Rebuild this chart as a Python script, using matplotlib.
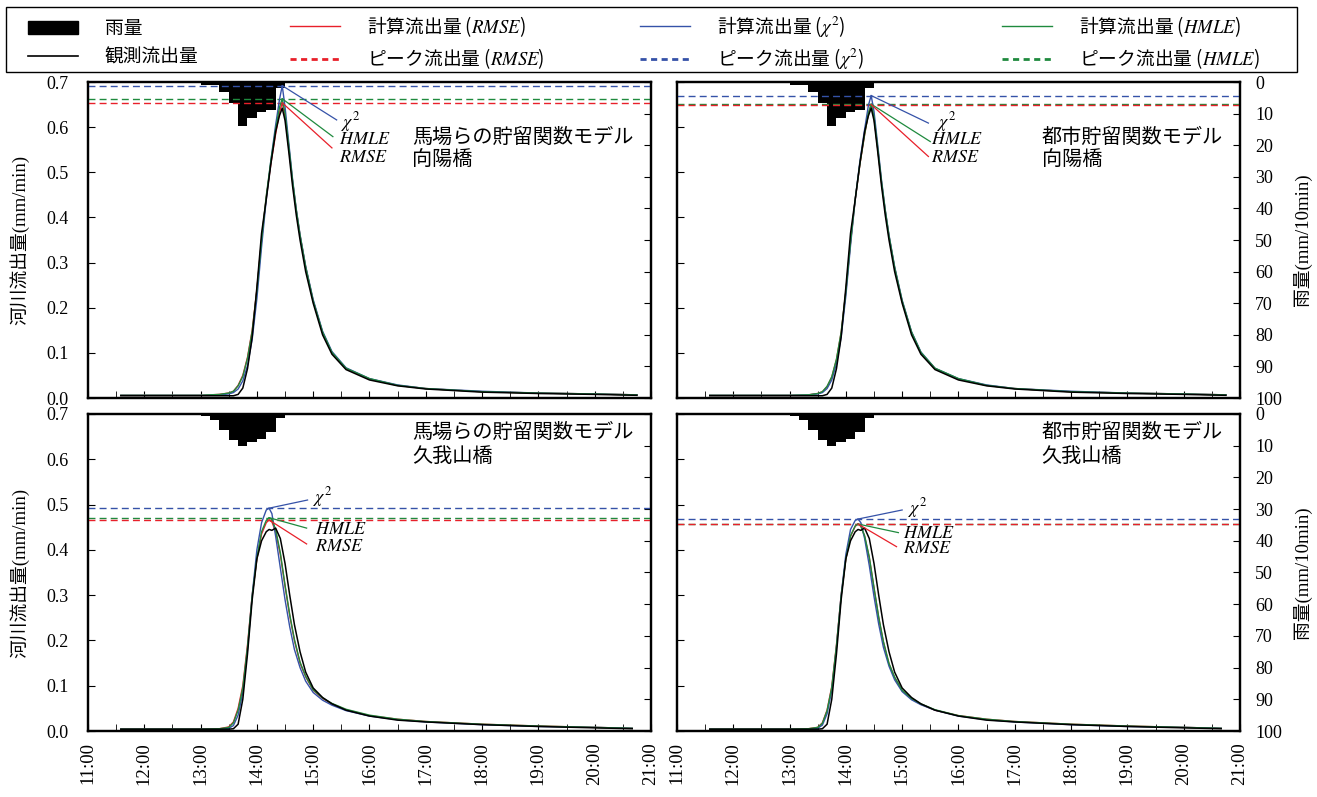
import matplotlib.pyplot as plt
from matplotlib.font_manager import FontProperties
from matplotlib.lines import Line2D
from matplotlib.patches import Patch, Rectangle

plt.rcParams['font.family'] = ['Liberation Serif', 'Noto Sans CJK JP']
plt.rcParams['mathtext.fontset'] = 'stix'

# time in minutes after 11:00
t_top = [35, 60, 90, 120, 140, 150, 155, 160, 165, 170, 175, 180, 185, 190, 195, 200, 204, 207,
         210, 214, 218, 222, 226, 232, 240, 250, 260, 275, 300, 330, 360, 420, 480, 540, 585]
t_bot = [35, 60, 90, 120, 140, 150, 155, 160, 165, 170, 175, 180, 185, 190, 193, 196, 200,
         205, 210, 215, 220, 226, 232, 240, 250, 260, 275, 300, 330, 360, 420, 480, 540, 580]

# observed runoff (mm/min)
obs_koyo = [0.005, 0.005, 0.005, 0.005, 0.005, 0.005, 0.005, 0.008, 0.022, 0.065, 0.135, 0.245,
            0.365, 0.440, 0.520, 0.590, 0.625, 0.642, 0.615, 0.545, 0.470, 0.405, 0.350, 0.280,
            0.210, 0.140, 0.097, 0.063, 0.040, 0.027, 0.020, 0.013, 0.010, 0.008, 0.006]
obs_kuga = [0.004, 0.004, 0.004, 0.004, 0.004, 0.004, 0.005, 0.015, 0.070, 0.170, 0.290, 0.380,
            0.420, 0.440, 0.445, 0.443, 0.448, 0.425, 0.370, 0.300, 0.235, 0.175, 0.130, 0.095,
            0.074, 0.060, 0.046, 0.033, 0.024, 0.020, 0.014, 0.010, 0.007, 0.005]

# Baba et al. storage function model, Koyo bridge
rmse_baba_koyo = [0.006, 0.006, 0.006, 0.006, 0.008, 0.011, 0.015, 0.028, 0.050, 0.090, 0.150, 0.240,
                  0.350, 0.445, 0.520, 0.585, 0.632, 0.654, 0.625, 0.555, 0.480, 0.415, 0.360, 0.290,
                  0.215, 0.145, 0.100, 0.065, 0.042, 0.028, 0.021, 0.014, 0.011, 0.009, 0.007]
hmle_baba_koyo = [0.006, 0.006, 0.006, 0.006, 0.008, 0.011, 0.015, 0.027, 0.048, 0.088, 0.148, 0.238,
                  0.350, 0.448, 0.527, 0.595, 0.643, 0.663, 0.630, 0.558, 0.482, 0.416, 0.360, 0.290,
                  0.215, 0.146, 0.101, 0.066, 0.043, 0.028, 0.021, 0.014, 0.011, 0.009, 0.007]
chi2_baba_koyo = [0.006, 0.006, 0.006, 0.006, 0.007, 0.009, 0.012, 0.020, 0.038, 0.072, 0.130, 0.220,
                  0.335, 0.440, 0.528, 0.605, 0.660, 0.692, 0.645, 0.565, 0.485, 0.418, 0.362, 0.292,
                  0.218, 0.148, 0.103, 0.067, 0.043, 0.029, 0.021, 0.015, 0.011, 0.009, 0.007]

# urban storage function model, Koyo bridge
rmse_urban_koyo = [0.006, 0.006, 0.006, 0.006, 0.007, 0.010, 0.014, 0.025, 0.046, 0.085, 0.145, 0.235,
                   0.345, 0.440, 0.518, 0.583, 0.630, 0.650, 0.622, 0.552, 0.478, 0.414, 0.358, 0.288,
                   0.214, 0.145, 0.100, 0.065, 0.042, 0.028, 0.021, 0.014, 0.011, 0.009, 0.007]
hmle_urban_koyo = [0.006, 0.006, 0.006, 0.006, 0.007, 0.010, 0.014, 0.026, 0.047, 0.086, 0.146, 0.236,
                   0.346, 0.441, 0.519, 0.584, 0.631, 0.651, 0.623, 0.553, 0.479, 0.415, 0.359, 0.289,
                   0.215, 0.146, 0.101, 0.066, 0.043, 0.028, 0.021, 0.014, 0.011, 0.009, 0.007]
chi2_urban_koyo = [0.006, 0.006, 0.006, 0.006, 0.007, 0.009, 0.012, 0.021, 0.040, 0.076, 0.135, 0.226,
                   0.338, 0.440, 0.525, 0.595, 0.648, 0.670, 0.635, 0.560, 0.483, 0.417, 0.361, 0.291,
                   0.217, 0.147, 0.102, 0.066, 0.043, 0.029, 0.021, 0.015, 0.011, 0.009, 0.007]

# Baba et al. storage function model, Kugayama bridge
rmse_baba_kuga = [0.004, 0.004, 0.004, 0.004, 0.005, 0.009, 0.020, 0.050, 0.100, 0.190, 0.300, 0.380,
                  0.435, 0.460, 0.466, 0.462, 0.440, 0.390, 0.320, 0.255, 0.200, 0.150, 0.120, 0.090,
                  0.072, 0.060, 0.047, 0.034, 0.026, 0.021, 0.015, 0.011, 0.008, 0.006]
hmle_baba_kuga = [0.004, 0.004, 0.004, 0.004, 0.005, 0.008, 0.018, 0.046, 0.095, 0.185, 0.298, 0.382,
                  0.440, 0.465, 0.471, 0.467, 0.445, 0.393, 0.322, 0.257, 0.202, 0.152, 0.121, 0.091,
                  0.073, 0.061, 0.048, 0.035, 0.026, 0.021, 0.015, 0.011, 0.008, 0.006]
chi2_baba_kuga = [0.004, 0.004, 0.004, 0.004, 0.004, 0.006, 0.012, 0.035, 0.085, 0.180, 0.300, 0.400,
                  0.460, 0.488, 0.492, 0.480, 0.430, 0.360, 0.290, 0.230, 0.180, 0.140, 0.110, 0.085,
                  0.068, 0.057, 0.045, 0.033, 0.025, 0.020, 0.014, 0.010, 0.008, 0.006]

# urban storage function model, Kugayama bridge
rmse_urban_kuga = [0.004, 0.004, 0.004, 0.004, 0.005, 0.008, 0.018, 0.046, 0.098, 0.190, 0.300, 0.380,
                   0.430, 0.452, 0.457, 0.452, 0.430, 0.382, 0.315, 0.250, 0.196, 0.148, 0.118, 0.089,
                   0.071, 0.059, 0.046, 0.034, 0.026, 0.021, 0.015, 0.011, 0.008, 0.006]
hmle_urban_kuga = [0.004, 0.004, 0.004, 0.004, 0.005, 0.008, 0.017, 0.045, 0.096, 0.188, 0.298, 0.380,
                   0.431, 0.453, 0.457, 0.453, 0.431, 0.384, 0.317, 0.252, 0.198, 0.149, 0.119, 0.090,
                   0.072, 0.060, 0.047, 0.034, 0.026, 0.021, 0.015, 0.011, 0.008, 0.006]
chi2_urban_kuga = [0.004, 0.004, 0.004, 0.004, 0.004, 0.006, 0.013, 0.038, 0.090, 0.185, 0.300, 0.390,
                   0.445, 0.465, 0.468, 0.460, 0.425, 0.365, 0.297, 0.236, 0.185, 0.143, 0.113, 0.087,
                   0.069, 0.058, 0.046, 0.033, 0.025, 0.020, 0.014, 0.010, 0.008, 0.006]

# 10-minute rainfall (mm/10min), bar start times in minutes after 11:00
rain_t = [30, 80, 120, 130, 140, 150, 160, 170, 180, 190, 200]
rain_koyo = [0.3, 0.3, 0.8, 1.0, 3.3, 6.5, 14.0, 11.4, 9.4, 8.9, 2.0]
rain_kuga = [0.3, 0.3, 0.6, 2.0, 5.0, 8.3, 10.0, 9.0, 7.9, 5.8, 1.2]

hour_labels = ['11:00', '12:00', '13:00', '14:00', '15:00', '16:00',
               '17:00', '18:00', '19:00', '20:00', '21:00']

RED = '#e8202a'
BLUE = '#3552a8'
GREEN = '#1f8a3e'
DASH = (0, (5, 3))

fig = plt.figure(figsize=(13.17, 7.97), dpi=100)


def draw_panel(rect, t, obs, rmse, hmle, chi2, rain, model, station,
               title_x, title_y, callouts, left, bottom):
    ax = fig.add_axes(rect)
    ax2 = ax.twinx()
    ax.set_zorder(ax2.get_zorder() + 1)
    ax.patch.set_visible(False)

    # rainfall hangs from the top
    ax2.bar(rain_t, rain, width=10, align='edge', color='black', linewidth=0)
    ax2.set_ylim(100, 0)
    ax2.set_yticks(range(0, 101, 10))

    # peak levels
    for series, c in [(hmle, GREEN), (rmse, RED), (chi2, BLUE)]:
        ax.axhline(max(series), color=c, ls=DASH, lw=1.0)

    ax.plot(t, rmse, color=RED, lw=1.0)
    ax.plot(t, chi2, color=BLUE, lw=1.0)
    ax.plot(t, hmle, color=GREEN, lw=1.0)
    ax.plot(t, obs, color='black', lw=1.1)

    # leader lines to the peak of each series
    for series, c, end, pos, label in callouts:
        i = series.index(max(series))
        ax.plot([t[i], end[0]], [series[i], end[1]], color=c, lw=0.9)
        ax.text(pos[0], pos[1], label, fontsize=13, ha='left', va='center')

    ax.text(title_x, title_y[0], model, transform=ax.transAxes, fontsize=14.5,
            ha='left', va='center')
    ax.text(title_x, title_y[1], station, transform=ax.transAxes, fontsize=14.5,
            ha='left', va='center')

    ax.set_xlim(0, 600)
    ax.set_ylim(0, 0.7)
    ax.set_xticks(range(0, 601, 60))
    ax.set_xticks(range(30, 600, 60), minor=True)
    ax.set_yticks([i / 10 for i in range(8)])
    ax.set_yticklabels(['%.1f' % (i / 10) for i in range(8)])
    ax.set_xticklabels(hour_labels, rotation=90)

    ax.tick_params(axis='x', which='both', direction='in', length=5,
                   labelbottom=bottom, labelsize=13.5, pad=8)
    ax.tick_params(axis='y', direction='in', length=5, labelleft=left,
                   labelsize=13, pad=14)
    ax2.tick_params(axis='y', direction='in', length=5, labelright=not left,
                    labelsize=13, pad=11)
    for a in (ax, ax2):
        for s in a.spines.values():
            s.set_linewidth(1.6)

    if left:
        ax.set_ylabel('河川流出量(mm/min)', fontsize=13.5)
        ax.yaxis.set_label_coords(-0.105, 0.5)
    else:
        ax2.set_ylabel('雨量(mm/10min)', fontsize=13.5)
        ax2.yaxis.set_label_coords(1.094, 0.5)
    return ax


chi = '$\\chi^2$'
hm = '$\\mathit{HMLE}$'
rm = '$\\mathit{RMSE}$'

draw_panel([0.0668, 0.5006, 0.4275, 0.3965], t_top, obs_koyo,
           rmse_baba_koyo, hmle_baba_koyo, chi2_baba_koyo, rain_koyo,
           '馬場らの貯留関数モデル', '向陽橋', 0.5755, (0.823, 0.752),
           [(chi2_baba_koyo, BLUE, (265, 0.616), (270, 0.612), chi),
            (hmle_baba_koyo, GREEN, (261, 0.579), (268, 0.572), hm),
            (rmse_baba_koyo, RED, (260, 0.554), (268, 0.532), rm)],
           left=True, bottom=False)

draw_panel([0.5140, 0.5006, 0.4275, 0.3965], t_top, obs_koyo,
           rmse_urban_koyo, hmle_urban_koyo, chi2_urban_koyo, rain_koyo,
           '都市貯留関数モデル', '向陽橋', 0.648, (0.823, 0.752),
           [(chi2_urban_koyo, BLUE, (268, 0.609), (277, 0.612), chi),
            (hmle_urban_koyo, GREEN, (270, 0.568), (271, 0.572), hm),
            (rmse_urban_koyo, RED, (268, 0.535), (271, 0.532), rm)],
           left=False, bottom=False)

draw_panel([0.0668, 0.0828, 0.4275, 0.3978], t_bot, obs_kuga,
           rmse_baba_kuga, hmle_baba_kuga, chi2_baba_kuga, rain_kuga,
           '馬場らの貯留関数モデル', '久我山橋', 0.5755, (0.940, 0.864),
           [(chi2_baba_kuga, BLUE, (234, 0.510), (240, 0.517), chi),
            (hmle_baba_kuga, GREEN, (233, 0.448), (242, 0.444), hm),
            (rmse_baba_kuga, RED, (233, 0.413), (242, 0.408), rm)],
           left=True, bottom=True)

draw_panel([0.5140, 0.0828, 0.4275, 0.3978], t_bot, obs_kuga,
           rmse_urban_kuga, hmle_urban_kuga, chi2_urban_kuga, rain_kuga,
           '都市貯留関数モデル', '久我山橋', 0.648, (0.940, 0.864),
           [(chi2_urban_kuga, BLUE, (240, 0.488), (246, 0.493), chi),
            (hmle_urban_kuga, GREEN, (236, 0.438), (241, 0.436), hm),
            (rmse_urban_kuga, RED, (234, 0.407), (241, 0.404), rm)],
           left=False, bottom=True)

# legend: a framed strip across the top, one column of entries per series
fig.patches.append(Rectangle((6 / 1317, 1 - 72 / 797), 1291 / 1317, 65 / 797,
                             transform=fig.transFigure, fill=False,
                             edgecolor='black', linewidth=1.0))
leg_dash = (0, (2.2, 1.6))
leg_cols = [
    (28, [Patch(facecolor='black', edgecolor='black'), Line2D([], [], color='black', lw=1.2)],
     ['雨量', '観測流出量']),
    (290, [Line2D([], [], color=RED, lw=1.0), Line2D([], [], color=RED, lw=2.0, ls=leg_dash)],
     ['計算流出量 (' + rm + ')', 'ピーク流出量 (' + rm + ')']),
    (640, [Line2D([], [], color=BLUE, lw=1.0), Line2D([], [], color=BLUE, lw=2.0, ls=leg_dash)],
     ['計算流出量 (' + chi + ')', 'ピーク流出量 (' + chi + ')']),
    (1002, [Line2D([], [], color=GREEN, lw=1.0), Line2D([], [], color=GREEN, lw=2.0, ls=leg_dash)],
     ['計算流出量 (' + hm + ')', 'ピーク流出量 (' + hm + ')']),
]
for x_px, hs, ls in leg_cols:
    fig.legend(hs, ls, loc='center left', bbox_to_anchor=(x_px / 1317, 1 - 42.5 / 797),
               prop=FontProperties(family='Noto Sans CJK JP', size=13.5),
               frameon=False, borderpad=0, borderaxespad=0,
               handlelength=2.65, handletextpad=1.45, labelspacing=0.4)

fig.savefig('out.png', dpi=100)
